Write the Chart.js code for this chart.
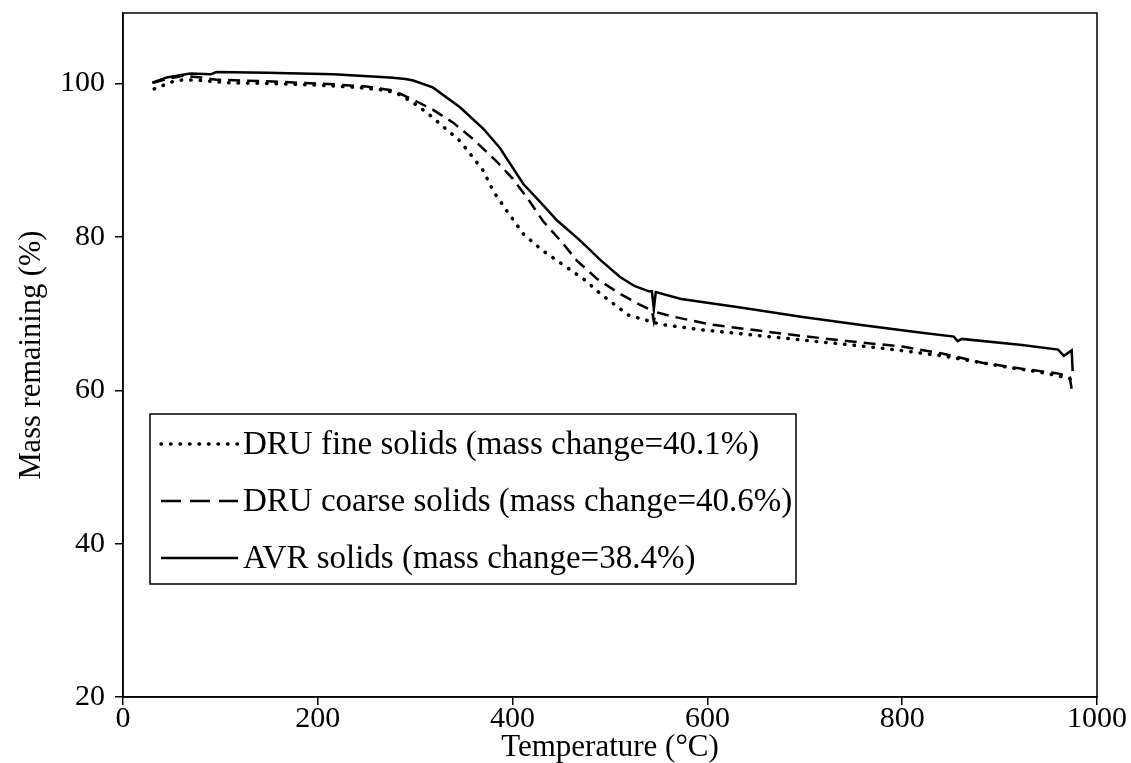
<!DOCTYPE html>
<html lang="en">
<head>
    <meta charset="UTF-8">
    <title>Mass remaining vs temperature</title>
    <script src="https://cdn.jsdelivr.net/npm/chart.js@4.4.1/dist/chart.umd.min.js"></script>
    <style>
        html, body { margin: 0; padding: 0; background: #fff; }
    </style>
</head>
<body>
    <div style="width: 1131px; height: 763px;">
    <canvas id="tgaChart" width="1131" height="763"></canvas>
    </div>

    <script>
        // DRU fine solids (dotted)
        const fineTemp = [32, 40, 50, 62, 80, 107, 150, 200, 240, 271, 285, 298, 312, 325, 336, 346, 356, 370, 380, 394, 411, 431, 456, 475, 490, 519, 552, 593, 655, 717, 779, 841, 903, 935, 960, 975];
        const fineMass = [99.3, 99.7, 100.2, 100.5, 100.4, 100.1, 100.0, 99.8, 99.5, 99.1, 98.5, 97.5, 96.2, 94.8, 93.6, 92.5, 90.9, 88.6, 86.0, 83.4, 80.4, 78.2, 76.0, 74.3, 72.6, 69.8, 68.6, 67.9, 67.1, 66.3, 65.5, 64.5, 63.1, 62.5, 61.9, 61.4];

        // DRU coarse solids (dashed)
        const coarseTemp = [31, 45, 62, 80, 96, 148, 216, 250, 277, 298, 318, 339, 360, 384, 400, 415, 431, 452, 466, 487, 510, 530, 543, 545, 547, 565, 602, 676, 737, 800, 841, 882, 923, 960, 972, 975];
        const coarseMass = [100.1, 100.6, 101.0, 100.8, 100.5, 100.3, 99.9, 99.6, 99.1, 97.9, 96.6, 94.9, 92.7, 89.8, 87.6, 85.1, 82.1, 79.1, 76.9, 74.5, 72.6, 71.2, 70.4, 69.0, 70.2, 69.6, 68.6, 67.4, 66.5, 65.7, 64.8, 63.6, 62.8, 62.2, 61.7, 59.4];

        // AVR solids (solid)
        const avrTemp = [30, 45, 69, 90, 96, 148, 216, 274, 290, 298, 318, 346, 370, 387, 411, 428, 446, 466, 477, 490, 510, 525, 540, 543, 545, 547, 573, 634, 696, 758, 820, 853, 857, 861, 923, 960, 966, 974, 975];
        const avrMass = [100.1, 100.8, 101.3, 101.2, 101.5, 101.4, 101.2, 100.8, 100.6, 100.4, 99.5, 96.9, 94.1, 91.6, 86.9, 84.6, 82.1, 79.9, 78.6, 77.0, 74.8, 73.6, 72.9, 72.9, 70.6, 72.8, 71.9, 70.8, 69.6, 68.5, 67.5, 67.0, 66.4, 66.7, 65.9, 65.3, 64.5, 65.2, 62.5];

        const seriesLabels = [
            'DRU fine solids (mass change=40.1%)',
            'DRU coarse solids (mass change=40.6%)',
            'AVR solids (mass change=38.4%)'
        ];

        const xTicks = [0, 200, 400, 600, 800, 1000];
        const yTicks = [20, 40, 60, 80, 100];

        const serif = '"Liberation Serif", "Times New Roman", serif';

        // dash patterns for the plot lines and the legend samples
        const dotDash = [0.5, 9];
        const lineDash = [12, 7];
        const legendDash = [20, 9];

        function toPoints(xs, ys) {
            return xs.map((x, i) => ({ x: x, y: ys[i] }));
        }

        // box round the plot area
        const frame = {
            id: 'frame',
            afterDraw(chart) {
                const { ctx, chartArea: a } = chart;
                ctx.save();
                ctx.strokeStyle = '#000';
                ctx.lineWidth = 1.5;
                ctx.strokeRect(a.left, a.top, a.right - a.left, a.bottom - a.top);
                ctx.restore();
            }
        };

        // legend box inside the plot, lower left
        const boxLegend = {
            id: 'boxLegend',
            afterDraw(chart) {
                const ctx = chart.ctx;
                const left = 150, top = 414, width = 646, height = 170;
                ctx.save();
                ctx.fillStyle = '#fff';
                ctx.fillRect(left, top, width, height);
                ctx.strokeStyle = '#000';
                ctx.lineWidth = 1.5;
                ctx.strokeRect(left, top, width, height);
                ctx.font = '33px ' + serif;
                ctx.textBaseline = 'middle';
                ctx.fillStyle = '#000';
                chart.data.datasets.forEach((ds, i) => {
                    const y = top + 30 + i * 57;
                    ctx.beginPath();
                    ctx.lineCap = ds.borderCapStyle || 'butt';
                    ctx.setLineDash(i === 1 ? legendDash : (ds.borderDash || []));
                    ctx.lineWidth = ds.borderWidth;
                    ctx.moveTo(left + 11, y);
                    ctx.lineTo(left + 88, y);
                    ctx.stroke();
                    ctx.setLineDash([]);
                    ctx.fillText(ds.label, left + 93, y + 1);
                });
                ctx.restore();
            }
        };

        const ctx = document.getElementById('tgaChart').getContext('2d');
        const chart = new Chart(ctx, {
            type: 'line',
            data: {
                datasets: [{
                    label: seriesLabels[0],
                    data: toPoints(fineTemp, fineMass),
                    borderColor: '#000',
                    borderWidth: 3.5,
                    borderDash: dotDash,
                    borderCapStyle: 'round'
                }, {
                    label: seriesLabels[1],
                    data: toPoints(coarseTemp, coarseMass),
                    borderColor: '#000',
                    borderWidth: 2.5,
                    borderDash: lineDash
                }, {
                    label: seriesLabels[2],
                    data: toPoints(avrTemp, avrMass),
                    borderColor: '#000',
                    borderWidth: 2.5
                }]
            },
            options: {
                responsive: false,
                animation: false,
                layout: {
                    padding: { top: 13, right: 34, bottom: 0, left: 0 }
                },
                elements: {
                    point: { radius: 0 },
                    line: { tension: 0, fill: false }
                },
                plugins: {
                    legend: { display: false },
                    tooltip: { enabled: false }
                },
                scales: {
                    x: {
                        type: 'linear',
                        min: 0,
                        max: 1000,
                        afterBuildTicks: scale => { scale.ticks = xTicks.map(v => ({ value: v })); },
                        afterFit: scale => { scale.height = 66; },
                        grid: { display: true, drawOnChartArea: false, drawTicks: true, tickLength: 8, color: '#000', lineWidth: 1.5 },
                        border: { display: true, color: '#000', width: 1.5 },
                        ticks: { color: '#000', padding: -4, maxRotation: 0, callback: v => String(v), font: { family: serif, size: 30 } },
                        title: {
                            display: true,
                            text: 'Temperature (°C)',
                            color: '#000',
                            padding: { top: 0, bottom: -3 },
                            font: { family: serif, size: 31 }
                        }
                    },
                    y: {
                        type: 'linear',
                        min: 20,
                        max: 109.2,
                        afterBuildTicks: scale => { scale.ticks = yTicks.map(v => ({ value: v })); },
                        afterFit: scale => {
                            scale.width = 123;
                            scale.paddingTop = 0;
                            scale.paddingBottom = 0;
                        },
                        grid: { display: true, drawOnChartArea: false, drawTicks: true, tickLength: 8, color: '#000', lineWidth: 1.5 },
                        border: { display: true, color: '#000', width: 1.5 },
                        ticks: { color: '#000', padding: 10, font: { family: serif, size: 30 } },
                        title: {
                            display: true,
                            text: 'Mass remaining (%)',
                            color: '#000',
                            padding: { top: 14, bottom: 0 },
                            font: { family: serif, size: 30.5 }
                        }
                    }
                }
            },
            plugins: [frame, boxLegend]
        });
    </script>

</body>
</html>
